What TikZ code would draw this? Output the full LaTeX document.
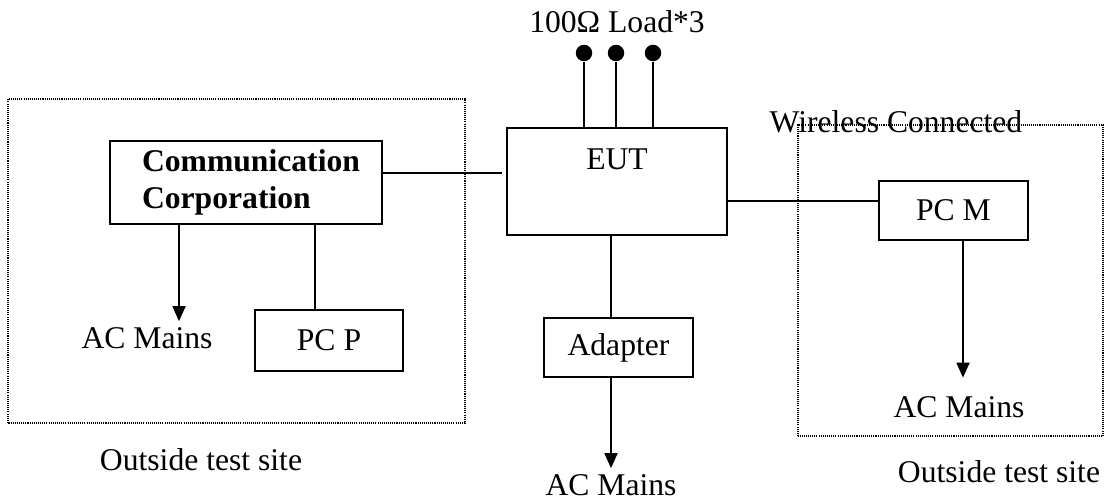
\documentclass[tikz,border=0pt]{standalone}
\usepackage{fontspec}
\setmainfont{Liberation Serif}
\usetikzlibrary{arrows.meta,positioning,calc}
\tikzset{
  emc/box/.style={
    draw=black,
    line width=1.1pt,
    fill=white,
    align=center,
    inner sep=3pt,
    font=\fontsize{18}{21}\selectfont
  },
  emc/label/.style={align=center, font=\fontsize{18}{21}\selectfont},
  emc/zone/.style={draw=black, line width=0.6pt, dash pattern=on 0.6pt off 0.6pt},
  emc/line/.style={draw=black, line width=1pt},
  emc/arrow/.style={-{Triangle[length=0.3cm,width=0.26cm]}, line width=1pt, draw=black},
  emc/pin/.style={circle, fill=black, inner sep=0pt, minimum size=0.33cm}
}

\begin{document}
\begin{tikzpicture}[x=1cm,y=1cm]
  \useasboundingbox (0,0) rectangle (22.16,10.08);

  % outside test site areas
  \draw[emc/zone] (0.16,1.62) rectangle (9.30,8.10);
  \draw[emc/zone] (15.96,1.36) rectangle (22.06,7.58);

  \node[emc/box,minimum width=5.44cm,minimum height=1.66cm,align=left,
        font=\fontsize{18}{21}\selectfont\bfseries] (comm) at (4.92,6.43) {\hspace*{0.2cm}Communication\\\hspace*{0.2cm}Corporation};
  \node[emc/box,minimum width=4.40cm,minimum height=2.14cm] (eut) at (12.34,6.45) {};
  \node[emc/label,anchor=base] (euttext) at ($(eut.north)+(0,-0.84)$) {EUT};
  \node[emc/box,minimum width=2.96cm,minimum height=1.22cm] (pcp) at (6.58,3.27) {PC P};
  \node[emc/box,minimum width=2.98cm,minimum height=1.18cm] (adapter) at (12.37,3.13) {Adapter};
  \node[emc/box,minimum width=2.98cm,minimum height=1.18cm] (pcm) at (19.07,5.87) {PC M};

  \node[emc/label,anchor=base] (load) at (12.34,9.42) {100Ω Load*3};
  \node[emc/label] (acl) at (2.94,3.32) {AC Mains};
  \node[emc/label] (acb) at (12.22,0.38) {AC Mains};
  \node[emc/label] (acr) at (19.18,1.94) {AC Mains};
  \node[emc/label] (sitel) at (4.02,0.88) {Outside test site};
  \node[emc/label] (siter) at (19.98,0.64) {Outside test site};
  \node[emc/label,anchor=base] (wireless) at (17.92,7.42) {Wireless Connected};

  % loads on top of the EUT
  \foreach \x [count=\i] in {11.68,12.32,13.06} {
    \node[emc/pin] (load\i) at (\x,9.02) {};
    \draw[emc/line] (load\i) -- (load\i |- eut.north);
  }

  \coordinate (acltip) at ([xshift=0.64cm]acl.north);
  \coordinate (pcptop) at ([xshift=-0.28cm]pcp.north);
  \coordinate (adptop) at ([xshift=-0.15cm]adapter.north);
  \coordinate (acrtip) at ([xshift=0.08cm,yshift=0.25cm]acr.north);

  \draw[emc/line] ([yshift=0.19cm]comm.east) -- ([yshift=0.19cm,xshift=-0.08cm]comm.east -| eut.west);
  \draw[emc/line] ([yshift=-0.39cm]eut.east) -- ([yshift=-0.39cm]eut.east -| pcm.west);
  \draw[emc/arrow] (acltip |- comm.south) -- (acltip);
  \draw[emc/line] (pcptop |- comm.south) -- (pcptop);
  \draw[emc/line] (adptop |- eut.south) -- (adptop);
  \draw[emc/arrow] ([xshift=-0.15cm]adapter.south) -- (acb.north);
  \draw[emc/arrow] (acrtip |- pcm.south) -- (acrtip);
\end{tikzpicture}
\end{document}
